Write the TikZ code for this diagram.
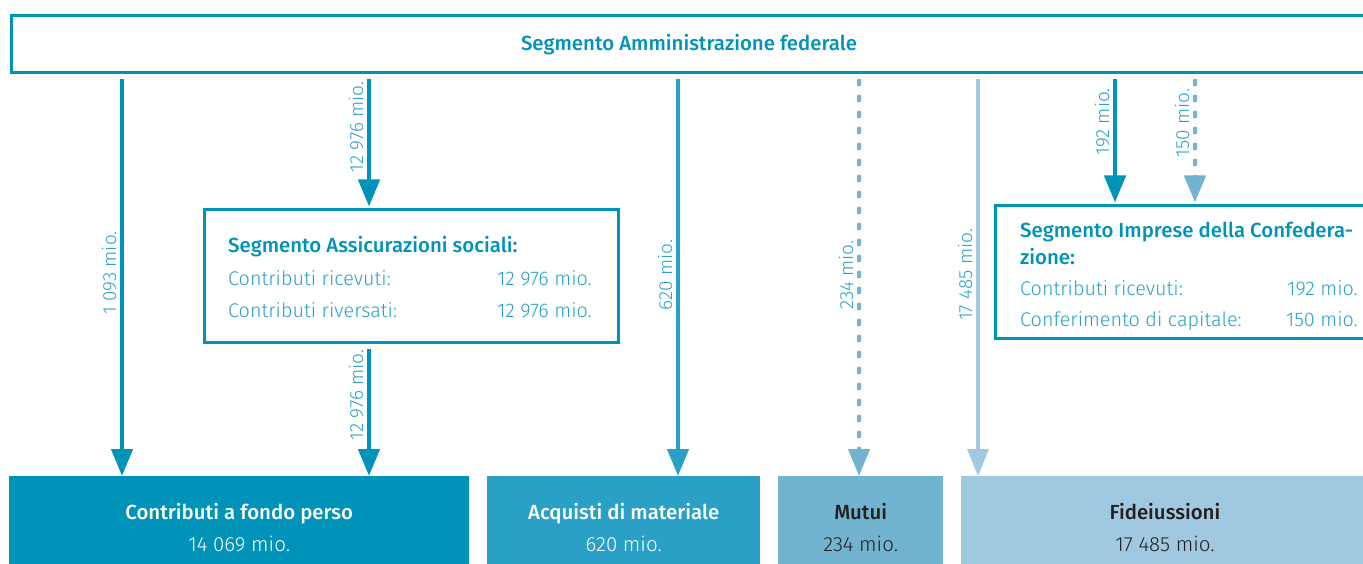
\documentclass[tikz,border=0pt]{standalone}
\usepackage{fontspec}
\setmainfont{Fira Sans}[UprightFont=* Light, BoldFont=* Medium]
\usetikzlibrary{arrows.meta}
\definecolor{cA}{HTML}{0093BA}
\definecolor{cB}{HTML}{2AA0C6}
\definecolor{cC}{HTML}{72B3D0}
\definecolor{cD}{HTML}{A0C8E0}
\definecolor{cT}{HTML}{2AA0C6}
\definecolor{cK}{HTML}{231F20}
\tikzset{
  frame/.style={draw=cA, line width=3pt, fill=white, inner sep=0pt},
  flow/.style={line width=4.5pt, -{Triangle[width=21pt,length=27pt]}, shorten <=5pt},
  dash flow/.style={flow, dash pattern=on 7pt off 9pt},
  vlabel/.style={rotate=90, anchor=base, inner sep=0pt, text=cT, font=\fontsize{19}{22}\selectfont},
  botbox/.style={anchor=north west, minimum height=90pt, inner sep=0pt},
  bttl/.style={anchor=base, inner sep=0pt, font=\fontsize{20.4}{24}\selectfont\bfseries},
  bval/.style={anchor=base, inner sep=0pt, font=\fontsize{20.5}{24}\selectfont},
  ttl/.style={font=\fontsize{20.4}{24}\selectfont\bfseries, text=cA, inner sep=0pt},
  row/.style={font=\fontsize{19.8}{24}\selectfont, text=cT, inner sep=0pt}
}
\begin{document}
\begin{tikzpicture}[x=1pt,y=-1pt]
\useasboundingbox (0,0) rectangle (1363,564);
% top box
\node[frame, anchor=north west, minimum width=1358pt, minimum height=57pt] (top) at (10,14) {};
\node[ttl, anchor=base] (topT) at (689,51) {Segmento Amministrazione federale};
% bottom boxes
\node[botbox, fill=cA, minimum width=460pt] (b1) at (9,476) {};
\node[bttl, text=white] (b1t) at (b1.center |- 0,519) {Contributi a fondo perso};
\node[bval, text=white] (b1v) at (b1.center |- 0,551) {14 069 mio.};
\node[botbox, fill=cB, minimum width=273pt] (b2) at (487,476) {};
\node[bttl, text=white] (b2t) at (b2.center |- 0,519) {Acquisti di materiale};
\node[bval, text=white] (b2v) at (b2.center |- 0,551) {620 mio.};
\node[botbox, fill=cC, minimum width=165pt] (b3) at (778,476) {};
\node[bttl, text=cK] (b3t) at (b3.center |- 0,519) {Mutui};
\node[bval, text=cK] (b3v) at (b3.center |- 0,551) {234 mio.};
\node[botbox, fill=cD, minimum width=408pt] (b4) at (961,476) {};
\node[bttl, text=cK] (b4t) at (1165,519) {Fideiussioni};
\node[bval, text=cK] (b4v) at (1165,551) {17 485 mio.};
% middle boxes
\node[frame, anchor=north west, minimum width=414pt, minimum height=133pt] (soc) at (203,208) {};
\node[ttl, anchor=base west] (socT) at (228,253) {Segmento Assicurazioni sociali:};
\node[row, anchor=base west] (socR1) at (228,285) {Contributi ricevuti:};
\node[row, anchor=base east] (socV1) at (592,285) {12 976 mio.};
\node[row, anchor=base west] (socR2) at (228,317) {Contributi riversati:};
\node[row, anchor=base east] (socV2) at (592,317) {12 976 mio.};

\node[frame, anchor=north west, minimum width=380pt, minimum height=133pt] (imp) at (994,204) {};
\node[ttl, anchor=base west] (impT1) at (1020,238) {Segmento Imprese della Confedera-};
\node[ttl, anchor=base west] (impT2) at (1020,265) {zione:};
\node[row, anchor=base west] (impR1) at (1020,295) {Contributi ricevuti:};
\node[row, anchor=base east] (impV1) at (1358,295) {192 mio.};
\node[row, anchor=base west] (impR2) at (1020,326) {Conferimento di capitale:};
\node[row, anchor=base east] (impV2) at (1358,326) {150 mio.};

% columns
\coordinate (k1) at (122,0);
\coordinate (k2) at (369,0);
\coordinate (k3) at (678,0);
\coordinate (k4) at (859,0);
\coordinate (k5) at (978,0);
\coordinate (k6) at (1115,0);
\coordinate (k7) at (1195,0);

\draw[flow, draw=cA, fill=cA] (top.south -| k1) -- (b1.north -| k1);
\draw[flow, draw=cA, fill=cA, shorten >=1.5pt] (top.south -| k2) -- (soc.north -| k2);
\draw[flow, draw=cA, fill=cA] (soc.south -| k2) -- (b1.north -| k2);
\draw[flow, draw=cB, fill=cB] (top.south -| k3) -- (b2.north -| k3);
\draw[dash flow, draw=cC, fill=cC] (top.south -| k4) -- (b3.north -| k4);
\draw[flow, draw=cD, fill=cD, line width=3.5pt] (top.south -| k5) -- (b4.north -| k5);
\draw[flow, draw=cA, fill=cA, shorten >=1.5pt] (top.south -| k6) -- (imp.north -| k6);
\draw[dash flow, draw=cC, fill=cC, shorten >=1.5pt] (top.south -| k7) -- (imp.north -| k7);

% labels
\node[vlabel] (l1) at (116,273) {1 093 mio.};
\node[vlabel] (l2) at (363,127) {12 976 mio.};
\node[vlabel] (l3) at (363,395) {12 976 mio.};
\node[vlabel] (l4) at (672,275) {620 mio.};
\node[vlabel] (l5) at (853,275) {234 mio.};
\node[vlabel] (l6) at (972,275) {17 485 mio.};
\node[vlabel] (l7) at (1109,122) {192 mio.};
\node[vlabel] (l8) at (1189,123) {150 mio.};
\end{tikzpicture}
\end{document}
